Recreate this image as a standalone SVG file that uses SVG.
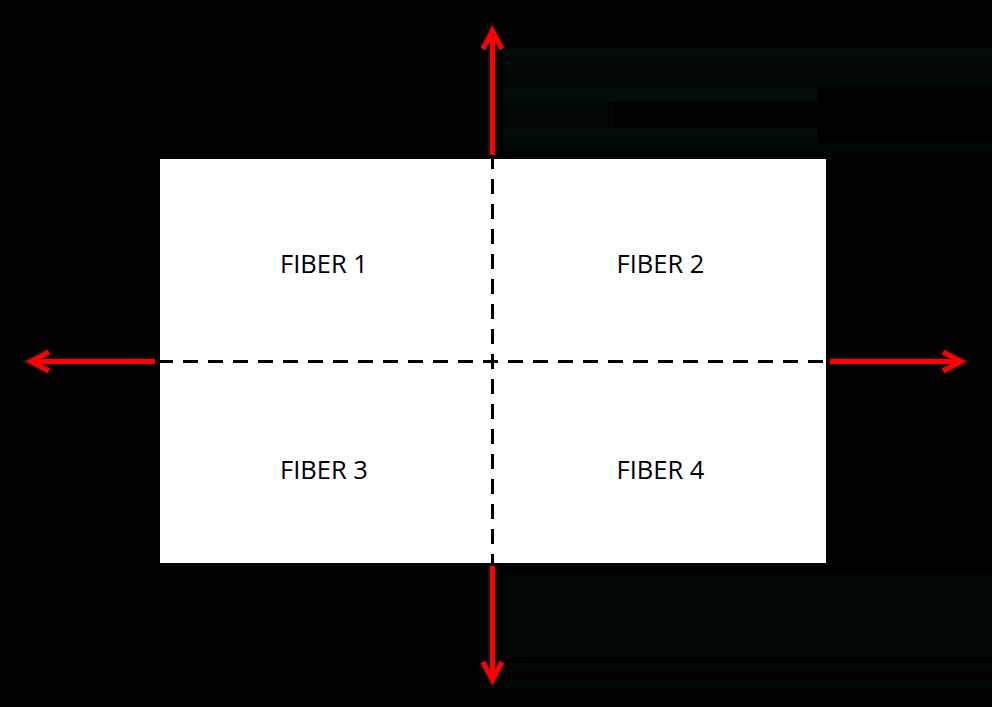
<svg xmlns="http://www.w3.org/2000/svg" width="992" height="707" viewBox="0 0 992 707">
<style>
.lbl{font-family:"Open Sans","Noto Sans",sans-serif;font-size:25.5px;fill:#000;text-anchor:middle}
.dash{stroke:#000;stroke-width:3;stroke-dasharray:15 10;fill:none}
.halo{stroke:#3a3a3a;stroke-width:9;fill:none;stroke-linejoin:miter;opacity:0.35}
.red{stroke:#ff0000;stroke-width:5;fill:none;stroke-linejoin:miter;stroke-miterlimit:10}
.bg1{fill:#020a0a}
.bg2{fill:#010707}
</style>
<rect x="0" y="0" width="992" height="707" fill="#000"/>
<g id="background-bands">
<rect class="bg1" x="503" y="48" width="489" height="15"/>
<rect class="bg2" x="503" y="63" width="489" height="25"/>
<rect class="bg1" x="503" y="88" width="314" height="14"/>
<rect class="bg2" x="503" y="102" width="110" height="26"/>
<rect class="bg1" x="503" y="128" width="314" height="15"/>
<rect class="bg2" x="503" y="143" width="489" height="9"/>
<rect class="bg2" x="503" y="575" width="489" height="82"/>
<rect class="bg2" x="503" y="663" width="489" height="8"/>
<rect class="bg2" x="503" y="680" width="489" height="8"/>
</g>
<g id="fiber-block">
<rect x="160" y="159" width="666" height="404" fill="#fff"/>
</g>
<g id="fiber1"><text class="lbl" x="324" y="273">FIBER 1</text></g>
<g id="fiber2"><text class="lbl" x="660.5" y="273">FIBER 2</text></g>
<g id="fiber3"><text class="lbl" x="324" y="479">FIBER 3</text></g>
<g id="fiber4"><text class="lbl" x="660.5" y="479">FIBER 4</text></g>
<g id="connectors">
<line class="dash" x1="492.5" y1="154" x2="492.5" y2="569"/>
<line class="dash" x1="158" y1="361.5" x2="826" y2="361.5"/>
<g class="halo">
<path d="M492.5 155 V34 M483 49 L492.5 31 L502 49"/>
<path d="M492.5 566 V677 M483 662 L492.5 680 L502 662"/>
<path d="M155 361.5 H34 M49 352 L31 361.5 L49 371"/>
<path d="M830 361.5 H958 M943 352 L961 361.5 L943 371"/>
</g>
<g class="red">
<path d="M492.5 155 V34 M483 49 L492.5 31 L502 49"/>
<path d="M492.5 566 V677 M483 662 L492.5 680 L502 662"/>
<path d="M155 361.5 H34 M49 352 L31 361.5 L49 371"/>
<path d="M830 361.5 H958 M943 352 L961 361.5 L943 371"/>
</g>
</g>
</svg>
